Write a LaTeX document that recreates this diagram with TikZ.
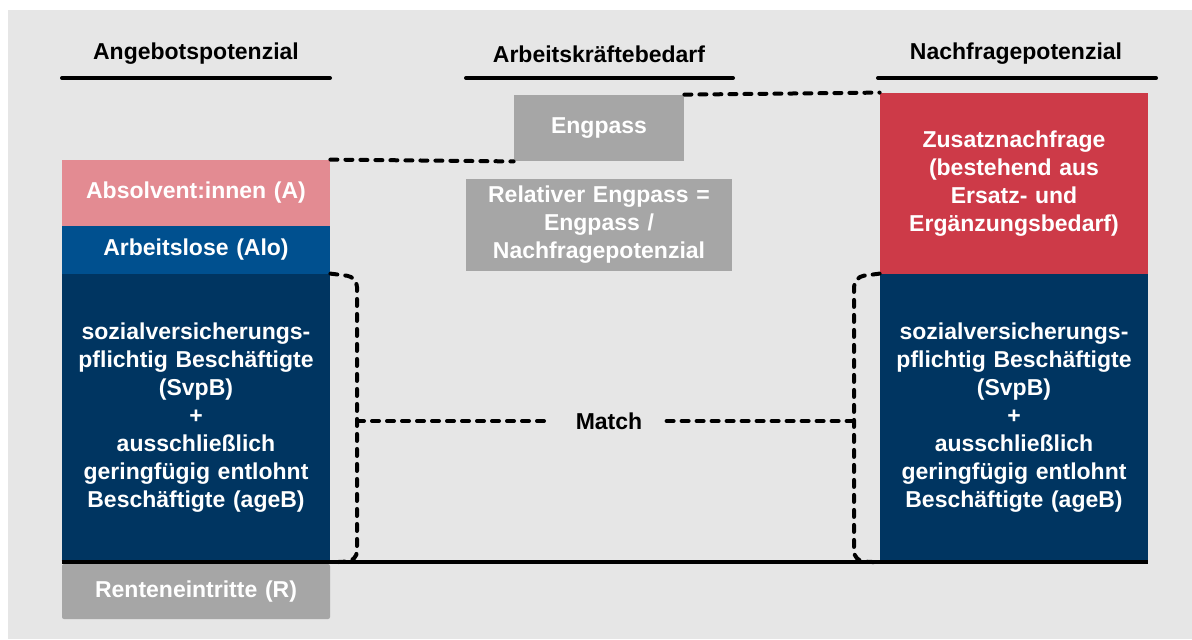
\documentclass[tikz,border=0pt]{standalone}
\usepackage{fontspec}
\setmainfont{Liberation Sans}
\usetikzlibrary{calc}

\definecolor{bggray}{HTML}{E6E6E6}
\definecolor{absolvpink}{HTML}{E38B92}
\definecolor{alablue}{HTML}{00508F}
\definecolor{svnavy}{HTML}{003561}
\definecolor{zusatzred}{HTML}{CD3A48}
\definecolor{boxgray}{HTML}{A6A6A6}

\begin{document}
\begin{tikzpicture}[x=0.5pt, y=-0.5pt,
    box/.style={rectangle, inner sep=0pt, minimum width=134pt, text width=130pt, align=center, text=white, font=\bfseries\fontsize{11.5}{14}\selectfont},
    hdr/.style={inner sep=0pt, font=\bfseries\fontsize{11.5}{14}\selectfont},
    hline/.style={line width=2pt, line cap=round},
    dashline/.style={line width=2pt, line cap=round, dash pattern=on 3.5pt off 4pt}]
      \useasboundingbox (0,0) rectangle (1192,639);
      \fill[white] (0,0) rectangle (1192,639);
      \fill[bggray] (8,10) rectangle (1192,639);

      \node[hdr] (hAngebot) at (196,54) {Angebotspotenzial};
      \node[hdr] (hBedarf) at (599,54) {Arbeitskräftebedarf};
      \node[hdr] (hNachfrage) at (1016,54) {Nachfragepotenzial};
      \draw[hline] (62,78) -- (330,78);
      \draw[hline] (466,78) -- (733,78);
      \draw[hline] (878,78) -- (1156,78);

      \node[box, fill=absolvpink, minimum height=33pt] (absolv) at (196,193) {Absolvent:innen (A)};
      \node[box, fill=alablue, minimum height=24pt] (alo) at (196,250) {Arbeitslose (Alo)};
      \node[box, fill=svnavy, minimum height=144pt] (svL) at (196,418) {sozialversicherungs-\\pflichtig Beschäftigte\\(SvpB)\\+\\ausschließlich\\geringfügig entlohnt\\Beschäftigte (ageB)};
      \node[box, fill=boxgray, minimum height=27.5pt, rounded corners=1pt] (rente) at (196,591.5) {Renteneintritte (R)};

      \node[box, fill=boxgray, minimum width=85pt, text width=80pt, minimum height=33pt] (engpass) at (599,128) {Engpass};
      \node[box, fill=boxgray, minimum width=133pt, text width=130pt, minimum height=46pt] (relativ) at (599,225) {Relativer Engpass =\\Engpass /\\Nachfragepotenzial};

      \node[box, fill=zusatzred, minimum height=90.5pt] (zusatz) at (1014,183.5) {Zusatznachfrage\\(bestehend aus\\Ersatz- und\\Ergänzungsbedarf)};
      \node[box, fill=svnavy, minimum height=144pt] (svR) at (1014,418) {sozialversicherungs-\\pflichtig Beschäftigte\\(SvpB)\\+\\ausschließlich\\geringfügig entlohnt\\Beschäftigte (ageB)};

      \node[hdr, inner xsep=12pt] (match) at (609,421) {Match};
      \coordinate (tipL) at (357,421);
      \coordinate (tipR) at (854,421);

      \draw[line width=2pt] (svL.south west) -- (svR.south east);
      \draw[dashline] (absolv.north east) -- (engpass.south west);
      \draw[dashline] (engpass.north east) -- (zusatz.north west);
      \draw[dashline, rounded corners=5pt] (svL.north east) -- (357,277) -- (357,561) -- (svL.south east);
      \draw[dashline, rounded corners=5pt] (svR.north west) -- (854,277) -- (854,561) -- (svR.south west);
      \draw[dashline] (tipL) -- (match.west);
      \draw[dashline] (match.east) -- (tipR);
    \end{tikzpicture}
\end{document}
